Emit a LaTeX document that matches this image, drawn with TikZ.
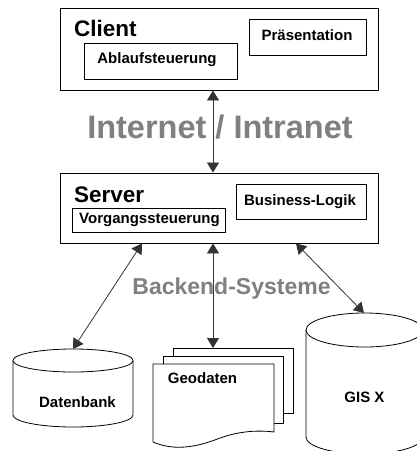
\documentclass[tikz,border=0pt]{standalone}
\usepackage{fontspec}
\setmainfont{Liberation Sans}
\usetikzlibrary{arrows.meta}
\definecolor{labelgray}{HTML}{808080}
\tikzset{
  frame/.style={draw=black, line width=0.9pt, fill=white, inner sep=0pt},
  pane/.style={draw=black, line width=0.8pt, fill=white, inner sep=0pt},
  small/.style={font=\fontsize{15}{18}\selectfont\bfseries, inner sep=0pt, anchor=base},
  title/.style={font=\fontsize{22.5}{26}\selectfont\bfseries, inner sep=0pt, anchor=base west},
  zone/.style={font=\bfseries, text=labelgray, inner sep=0pt, anchor=base},
  outline/.style={draw=black, line width=0.8pt, fill=white},
  biarrow/.style={draw=black!80, line width=0.8pt,
    {Triangle[length=10pt,width=12pt]}-{Triangle[length=10pt,width=12pt]}}
}
\begin{document}
\begin{tikzpicture}[x=1pt, y=-1pt]
\useasboundingbox (0,0) rectangle (417,451);
\clip (0,0) rectangle (417,451);

% --- client tier
\node[frame, minimum width=318pt, minimum height=82pt] (client) at (219,49) {};
\node[title] (clientlbl) at (74,36) {Client};
\node[pane, minimum width=153pt, minimum height=36pt] (abl) at (160.5,61) {};
\node[small] (abltxt) at (157,63) {Ablaufsteuerung};
\node[pane, minimum width=117pt, minimum height=36pt] (praes) at (307.5,37) {};
\node[small] (praestxt) at (307,40) {Präsentation};

% --- network
\node[zone, font=\fontsize{32.5}{36}\selectfont\bfseries] (net) at (220,138) {Internet / Intranet};

% --- server tier
\node[frame, minimum width=318pt, minimum height=70pt] (server) at (219,208) {};
\node[title] (serverlbl) at (74,202) {Server};
\node[pane, minimum width=130pt, minimum height=35pt] (blogic) at (301,201.5) {};
\node[small] (blogictxt) at (300,205) {Business-Logik};
\node[pane, minimum width=153pt, minimum height=24pt] (vorg) at (148.5,220) {};
\node[small] (vorgtxt) at (149.5,223) {Vorgangssteuerung};

% --- backend label
\node[zone, font=\fontsize{23}{27}\selectfont\bfseries] (backend) at (231.5,294) {Backend-Systeme};

% --- database cylinder (y axis points down, so arcs through 90 bulge downwards)
\draw[outline] (13,360.5) -- (13,415) arc[start angle=180, end angle=0, x radius=60, y radius=12]
  -- (133,360.5) arc[start angle=0, end angle=-180, x radius=60, y radius=11.5] -- cycle;
\draw[outline] (13,360.5) arc[start angle=180, end angle=0, x radius=60, y radius=11.5];
\coordinate (dbtop) at (73,349);
\node[small] (dbtxt) at (77.5,407) {Datenbank};

% --- stacked documents
\draw[outline] (173,348) rectangle (293,413);
\draw[outline] (163,356) rectangle (283,423);
\draw[outline] (153,364) -- (274,364) -- (274,432)
  .. controls (258,430) and (240,431) .. (220,438)
  .. controls (200,446) and (176,452) .. (153,442) -- cycle;
\coordinate (doctop) at (213,348);
\node[small] (doctxt) at (202.5,383) {Geodaten};

% --- GIS cylinder
\draw[outline] (306,330) -- (306,437) arc[start angle=180, end angle=0, x radius=58.5, y radius=17]
  -- (423,330) arc[start angle=0, end angle=-180, x radius=58.5, y radius=17] -- cycle;
\draw[outline] (306,330) arc[start angle=180, end angle=0, x radius=58.5, y radius=17];
\coordinate (gistop) at (364,313);
\node[small] (gistxt) at (364.5,402) {GIS X};

% --- connectors
\coordinate (midx) at (213,0);
\coordinate (leftx) at (142,0);
\coordinate (rightx) at (296,0);
\draw[biarrow] (client.south -| midx) -- (server.north -| midx);
\draw[biarrow] (server.south -| leftx) -- (dbtop);
\draw[biarrow] (server.south -| midx) -- (doctop);
\draw[biarrow] (server.south -| rightx) -- (gistop);
\end{tikzpicture}
\end{document}
